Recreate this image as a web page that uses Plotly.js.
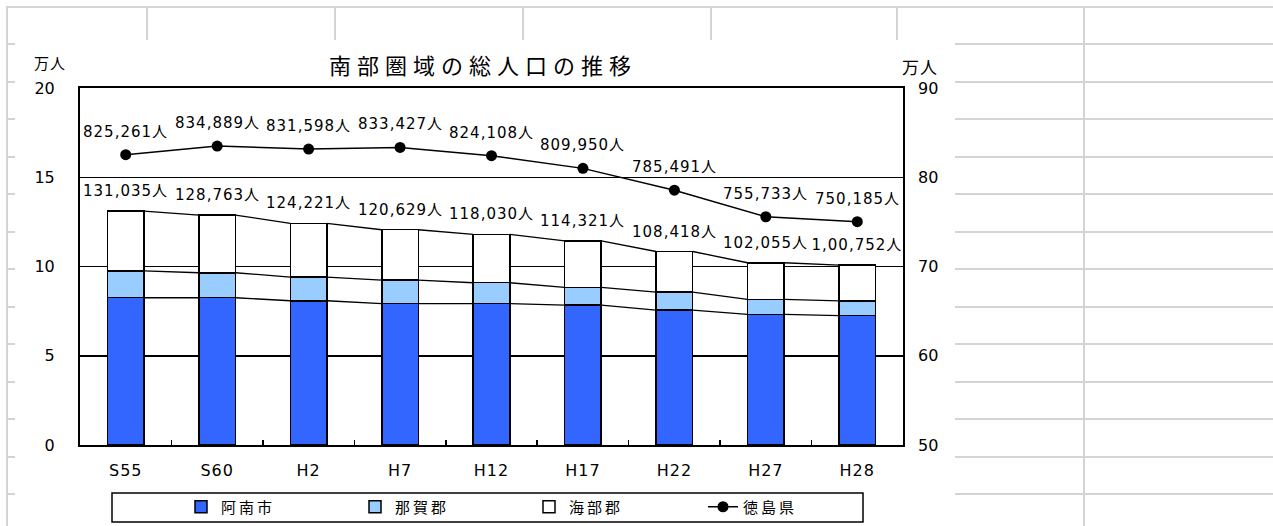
<!DOCTYPE html>
<html><head><meta charset="utf-8">
<script src="https://cdn.plot.ly/plotly-3.0.1.min.js"></script>
<style>
html,body{margin:0;padding:0;background:#fff;}
#wrap{position:relative;width:1273px;height:526px;overflow:hidden;background:#fff;}
.gl{position:absolute;background:#d4d4d4;}
#sheet{position:absolute;left:15px;top:40px;width:940px;height:486px;background:#fff;}
#chart{position:absolute;left:0;top:0;width:1273px;height:526px;}
#chart .annotation-text{letter-spacing:1px;}
#chart .gtitle{letter-spacing:6px;}
#chart .legendtext{letter-spacing:3px;}
#chart .xtick text{letter-spacing:1px;}
</style></head>
<body><div id="wrap"><div id="sheet"></div><div id="chart"></div></div>
<script>
// ---- data (万人) ----
const categories = ['S55','S60','H2','H7','H12','H17','H22','H27','H28'];
const anan  = [8.25, 8.25, 8.08, 7.92, 7.92, 7.84, 7.56, 7.32, 7.25];
const naka  = [1.50, 1.40, 1.33, 1.32, 1.17, 0.99, 1.01, 0.84, 0.82];
const kaifu = [3.35, 3.23, 3.01, 2.82, 2.71, 2.60, 2.27, 2.05, 2.01];
const totalLabels = ['131,035人','128,763人','124,221人','120,629人','118,030人','114,321人','108,418人','102,055人','1,00,752人'];
const tokushima = [82.5261, 83.4889, 83.1598, 83.3427, 82.4108, 80.9950, 78.5491, 75.5733, 75.0185];
const tokushimaLabels = ['825,261人','834,889人','831,598人','833,427人','824,108人','809,950人','785,491人','755,733人','750,185人'];
const seriesNames = ['阿南市','那賀郡','海部郡','徳島県'];
const barColors = ['#3366FF','#99CCFF','#FFFFFF'];

// ---- spreadsheet background (decoration) ----
(function(){
  const wrap = document.getElementById('wrap');
  const sheet = document.getElementById('sheet');
  function line(l,t,w,h){const d=document.createElement('div');d.className='gl';
    d.style.left=l+'px';d.style.top=t+'px';d.style.width=w+'px';d.style.height=h+'px';wrap.insertBefore(d,sheet);}
  line(6,6,1267,2);
  for(let k=0;k<13;k++){ line(6, Math.round(43+37.5*k), 1267, 2); }
  [6,146,334,522,710,896,1083].forEach(x=>line(x,6,2,520));
})();

const xs = categories.map((_, i) => i);
const halfW = 0.2;
const lvl1 = anan;
const lvl2 = anan.map((v,i)=>v+naka[i]);
const lvl3 = lvl2.map((v,i)=>v+kaifu[i]);

function seriesLine(tops){
  const X=[],Y=[];
  for(let i=0;i<tops.length-1;i++){ X.push(i+halfW, i+1-halfW, null); Y.push(tops[i], tops[i+1], null); }
  return {x:X, y:Y, type:'scatter', mode:'lines', line:{color:'#000', width:1.3}, showlegend:false, hoverinfo:'skip'};
}

const barLine = {color:'#000', width:1.5};
const traces = [
  {type:'bar', name:seriesNames[0], x:xs, y:anan, width:0.4, marker:{color:barColors[0], line:barLine}},
  {type:'bar', name:seriesNames[1], x:xs, y:naka, width:0.4, marker:{color:barColors[1], line:barLine}},
  {type:'bar', name:seriesNames[2], x:xs, y:kaifu, width:0.4, marker:{color:barColors[2], line:barLine}},
  seriesLine(lvl1), seriesLine(lvl2), seriesLine(lvl3),
  {type:'scatter', name:seriesNames[3], x:xs, y:tokushima, yaxis:'y2', mode:'lines+markers',
   line:{color:'#000', width:1.5}, marker:{color:'#000', size:11}}
];

const numFont = {family:'DejaVu Sans, Noto Sans CJK JP, sans-serif', size:15, color:'#000'};
const tickFont = {family:'DejaVu Sans, sans-serif', size:16, color:'#000'};
const annotations = [];
xs.forEach(i=>{
  annotations.push({x:i, y:lvl3[i], xref:'x', yref:'y', text:totalLabels[i], showarrow:false, yshift:20, font:numFont});
  annotations.push({x:i, y:tokushima[i], xref:'x', yref:'y2', text:tokushimaLabels[i], showarrow:false, yshift:23, font:numFont});
});
annotations.push({xref:'paper', yref:'paper', x:(50-80)/823, y:(445-62)/357, xanchor:'center', yanchor:'middle',
  text:'万人', showarrow:false, font:{family:'Noto Sans CJK JP', size:15, color:'#000'}});
annotations.push({xref:'paper', yref:'paper', x:(920-80)/823, y:(445-66)/357, xanchor:'center', yanchor:'middle',
  text:'万人', showarrow:false, font:{family:'Noto Sans CJK JP', size:17, color:'#000'}});

const layout = {
  width:1273, height:526,
  margin:{l:80, r:370, t:88, b:81, pad:0},
  paper_bgcolor:'rgba(0,0,0,0)', plot_bgcolor:'#fff',
  barmode:'stack',
  title:{text:'南部圏域の総人口の推移', font:{family:'Noto Sans CJK JP', size:22, color:'#000'},
    xref:'container', x:483/1273, xanchor:'center', yref:'container', y:1-66/526, yanchor:'middle'},
  xaxis:{range:[-0.5,8.5], tickmode:'array', tickvals:xs, ticktext:categories, ticks:'',
    showgrid:false, zeroline:false, showline:true, linecolor:'#000', linewidth:2, mirror:true,
    tickfont:tickFont, ticklabelstandoff:10,
    minor:{tickmode:'array', tickvals:xs.slice(1).map(i=>i-0.5), ticks:'inside', ticklen:5, tickcolor:'#000', tickwidth:1.5, showgrid:false}},
  yaxis:{range:[0,20], tickmode:'linear', tick0:0, dtick:5, showgrid:true, gridcolor:'#000', gridwidth:1.5,
    zeroline:false, showline:true, linecolor:'#000', linewidth:2, mirror:true, ticks:'',
    tickfont:tickFont, ticklabelstandoff:20},
  yaxis2:{overlaying:'y', side:'right', range:[50,90], tickmode:'linear', tick0:50, dtick:10, showgrid:false,
    zeroline:false, showline:false, ticks:'', tickfont:tickFont, ticklabelstandoff:14},
  showlegend:true,
  legend:{orientation:'h', xref:'container', yref:'container', x:181/1273, y:1-507/526, xanchor:'left', yanchor:'middle',
    entrywidth:129, entrywidthmode:'pixels', font:{family:'Noto Sans CJK JP', size:15, color:'#000'},
    bgcolor:'rgba(0,0,0,0)', borderwidth:0, traceorder:'normal'},
  shapes:[{type:'rect', xref:'paper', yref:'paper', x0:(112-80)/823, x1:(863-80)/823, y0:(445-522)/357, y1:(445-493)/357,
    line:{color:'#000', width:1.5}, fillcolor:'rgba(0,0,0,0)'}],
  annotations:annotations
};

Plotly.newPlot('chart', traces, layout, {displayModeBar:false, staticPlot:true});
</script></body></html>
